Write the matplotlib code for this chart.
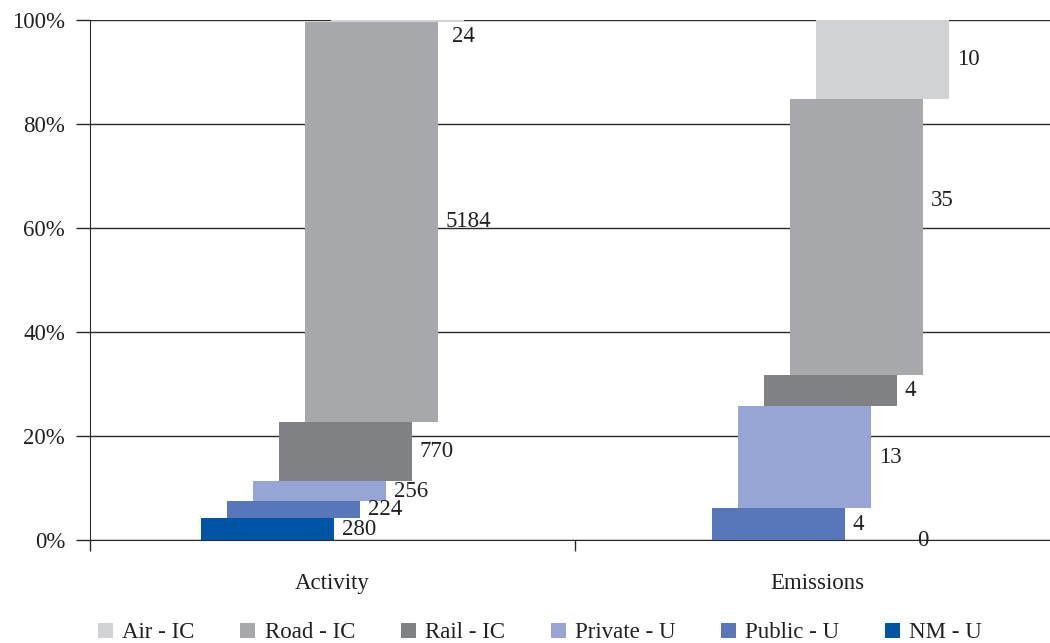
import matplotlib.pyplot as plt
import numpy as np

plt.rcParams['font.family'] = ['Liberation Serif', 'DejaVu Serif']

categories = ['Activity', 'Emissions']
series = ['NM - U', 'Public - U', 'Private - U', 'Rail - IC', 'Road - IC', 'Air - IC']
values = {
    'NM - U':      [280, 0],
    'Public - U':  [224, 4],
    'Private - U': [256, 13],
    'Rail - IC':   [770, 4],
    'Road - IC':   [5184, 35],
    'Air - IC':    [24, 10],
}
colors = {
    'NM - U': '#0054a6',
    'Public - U': '#5876ba',
    'Private - U': '#97a5d4',
    'Rail - IC': '#808184',
    'Road - IC': '#a7a8ab',
    'Air - IC': '#d1d2d4',
}
text_col = '#231f20'
fs = 16.5

# hand nudges (pixels) for a few labels that sit off-centre in the original
nudge = {('Air - IC', 0): (-20, -16), ('Road - IC', 1): (0, 36), ('NM - U', 1): (90, 0)}

fig = plt.figure(figsize=(10.5, 6.43), dpi=100)
ax = fig.add_axes([90/1050, 103/643, 970/1050, 520/643])

x = np.arange(len(categories))
totals = np.sum([values[s] for s in series], axis=0).astype(float)
width = 0.274
step = 0.0536

bottom = np.zeros(len(categories))
handles = {}
for i, s in enumerate(series):
    v = np.array(values[s], dtype=float)
    frac = v / totals * 100
    off = (i - 2.5) * step
    b = ax.bar(x + off, frac, width, bottom=bottom, color=colors[s], zorder=3,
               label=s)
    handles[s] = b
    for j in range(len(categories)):
        dx, dy = nudge.get((s, j), (0, 0))
        ax.annotate(f"{values[s][j]}", (x[j] + off + width / 2, bottom[j] + frac[j] / 2),
                    xytext=(8 + dx, dy), textcoords='offset pixels', va='center', ha='left',
                    fontsize=fs, color=text_col, zorder=5, annotation_clip=False)
    bottom += frac

ax.set_xlim(-0.5, 1.5)
ax.set_ylim(0, 100)
ax.set_yticks(np.arange(0, 101, 20))
ax.set_yticklabels([f"{t}%" for t in range(0, 101, 20)])
ax.yaxis.grid(True, color='#2a2a2a', linewidth=1.0, zorder=0)
ax.set_axisbelow(True)

ax.set_xticks(x)
ax.set_xticklabels(categories)
ax.set_xticks([-0.5, 0.5, 1.5], minor=True)
ax.tick_params(axis='x', which='major', length=0, pad=24, labelsize=fs, labelcolor=text_col)
ax.tick_params(axis='x', which='minor', length=8, width=1, color='#2a2a2a', direction='out')
ax.tick_params(axis='y', length=10, width=1, color='#2a2a2a', pad=8, labelsize=fs,
               labelcolor=text_col)

for side in ['top', 'right']:
    ax.spines[side].set_visible(False)
ax.spines['left'].set_color('#2a2a2a')
ax.spines['bottom'].set_color('#2a2a2a')
ax.spines['bottom'].set_zorder(4)

order = ['Air - IC', 'Road - IC', 'Rail - IC', 'Private - U', 'Public - U', 'NM - U']
leg = fig.legend([handles[s] for s in order], order, loc='center',
                 bbox_to_anchor=(540/1050, 10/643), ncol=6, frameon=False,
                 fontsize=fs, handlelength=0.65, handleheight=0.65, handletextpad=0.4,
                 columnspacing=2.0, labelcolor=text_col)

fig.savefig('out.png', dpi=100)
